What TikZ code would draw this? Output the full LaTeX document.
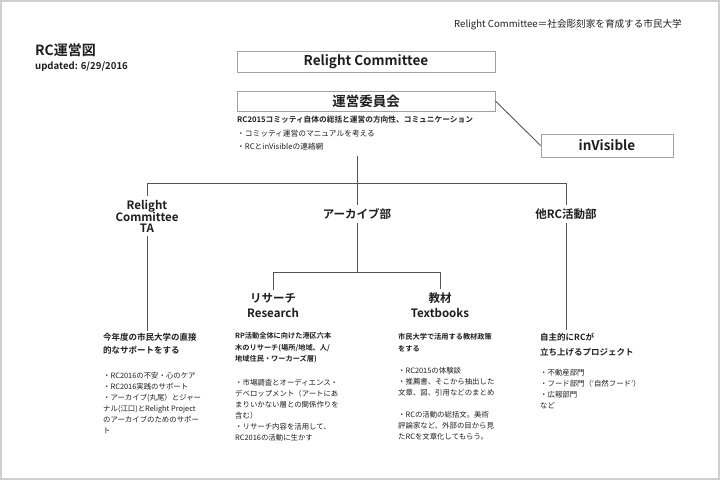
\documentclass[tikz,border=0pt]{standalone}
\usepackage{fontspec}
\setmainfont{Noto Sans CJK JP}[BoldFont={Noto Sans CJK JP Bold}]
\usepackage{xcolor}
\usetikzlibrary{positioning}
\definecolor{linegray}{HTML}{555555}
\definecolor{boxgray}{HTML}{A0A0A0}
\definecolor{framegray}{HTML}{CFCFCF}
\definecolor{textgray}{HTML}{1E1E1E}
\newcommand{\fsz}[2]{\fontsize{#1bp}{#2bp}\selectfont}

\begin{document}
\begin{tikzpicture}[
  x=1bp, y=-1bp,
  every node/.style={text=textgray, inner sep=0pt},
  box/.style={draw=boxgray, line width=0.9bp, minimum width=258bp,
              minimum height=21bp, font=\fsz{13.5}{15}\bfseries},
  dept/.style={font=\fsz{11.5}{12}\bfseries, align=center, inner sep=3.5bp},
  team/.style={font=\fsz{11.5}{15}\bfseries, align=center, inner sep=3.5bp},
  subhead/.style={font=\fsz{7.2}{11.5}\bfseries, align=left, anchor=north west},
  bighead/.style={font=\fsz{8.5}{13}\bfseries, align=left, anchor=north west},
  body/.style={font=\fsz{7.4}{11}, align=left, anchor=north west},
  conn/.style={draw=linegray, line width=0.9bp}
]
  \useasboundingbox (0,0) rectangle (720,480);
  \draw[framegray, line width=1.6bp] (1,1) rectangle (719,479);

  % header
  \node[anchor=west, font=\fsz{14}{16}\bfseries] (title) at (35,50) {RC運営図};
  \node[anchor=west, font=\fsz{9.6}{11}\bfseries] (date) at (35,67) {updated: 6/29/2016};
  \node[anchor=east, font=\fsz{9.6}{11}] (motto) at (682,25)
    {Relight Committee＝社会彫刻家を育成する市民大学};

  % committee boxes
  \node[box] (rc) at (366,62) {Relight Committee};
  \node[box, minimum height=20bp] (unei) at (366,101) {運営委員会};
  \node[box, minimum width=132bp, minimum height=23bp] (invis) at (607,145.5) {inVisible};
  \node[anchor=north west, align=left, font=\fsz{7.7}{13.5}] (kaigi) at (237,116)
    {\textbf{RC2015コミッティ自体の総括と運営の方向性、コミュニケーション}\\
     ・コミッティ運営のマニュアルを考える\\
     ・RCとinVisibleの連絡網};

  % departments
  \node[dept] (ta) at (147,216) {Relight\\[-1bp]Committee\\[-1bp]TA};
  \node[dept] (archive) at (357,214) {アーカイブ部};
  \node[dept] (other) at (566,214) {他RC活動部};
  \node[team] (research) at (273,305.5) {リサーチ\\Research};
  \node[team] (textbooks) at (440,305.5) {教材\\Textbooks};

  % descriptions
  \node[bighead] (tasub) at (103,333.5) {今年度の市民大学の直接\\的なサポートをする};
  \node[body, below right=17bp and 0bp of tasub.south west] (tabody)
    {・RC2016の不安・心のケア\\
     ・RC2016実践のサポート\\
     ・アーカイブ(丸尾）とジャー\\
     ナル(江口)とRelight Project\\
     のアーカイブのためのサポー\\
     ト};

  \node[subhead] (ressub) at (235,332.4)
    {RP活動全体に向けた港区六本\\
     木のリサーチ(場所/地域、人/\\
     地域住民・ワーカーズ層)};
  \node[body, below right=15.7bp and 0bp of ressub.south west] (resbody)
    {・市場調査とオーディエンス・\\
     デベロップメント（アートにあ\\
     まりいかない層との関係作りを\\
     含む）\\
     ・リサーチ内容を活用して、\\
     RC2016の活動に生かす};

  \node[subhead] (texsub) at (398,333.4) {市民大学で活用する教材政策\\をする};
  \node[body, below right=14.7bp and 0bp of texsub.south west] (texbody)
    {・RC2015の体験談\\
     ・推薦書、そこから抽出した\\
     文章、図、引用などのまとめ\\[11bp]
     ・RCの活動の総括文。美術\\
     評論家など、外部の目から見\\
     たRCを文章化してもらう。};

  \node[bighead, font=\fsz{8.5}{15}\bfseries] (othsub) at (540,332.8)
    {自主的にRCが\\立ち上げるプロジェクト};
  \node[body, below right=13bp and 0bp of othsub.south west] (othbody)
    {・不動産部門\\
     ・フード部門（‘自然フード’）\\
     ・広報部門\\
     など};

  % connectors
  \coordinate (bus) at (357,183);
  \coordinate (abus) at (357,272);
  \draw[conn] (unei.east) -- (invis.west);
  \draw[conn] ([yshift=-5bp]archive |- kaigi.south) -- (archive.north);
  \draw[conn] (ta.north) -- (ta.north |- bus) -- (other.north |- bus) -- (other.north);
  \draw[conn] (ta.south) -- ([yshift=3bp]ta |- tasub.north);
  \draw[conn] (other.south) -- ([yshift=3bp]other |- othsub.north);
  \draw[conn] (archive.south) -- (abus);
  \draw[conn] (research.north) -- (research.north |- abus)
    -- (textbooks.north |- abus) -- (textbooks.north);
\end{tikzpicture}
\end{document}
